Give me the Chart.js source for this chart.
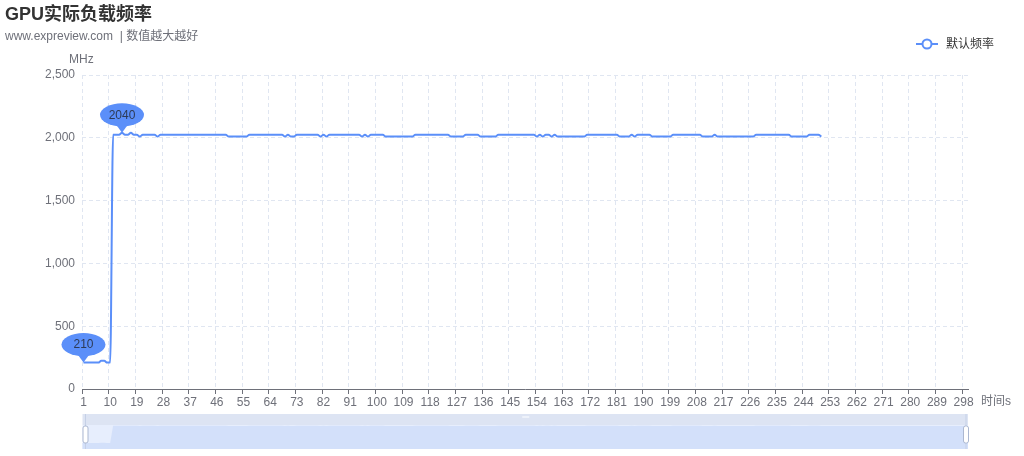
<!DOCTYPE html>
<html><head><meta charset="utf-8">
<script src="https://cdn.jsdelivr.net/npm/chart.js@4.4.1/dist/chart.umd.min.js"></script>
<style>
html,body{margin:0;padding:0;background:#fff;}
#wrap{position:relative;width:1024px;height:456px;overflow:hidden;font-family:"Liberation Sans","Noto Sans CJK SC",sans-serif;}
#c{position:absolute;left:0;top:0;}
.t{position:absolute;white-space:nowrap;line-height:1;}
</style></head><body>
<div id="wrap">
<canvas id="c" width="1024" height="456" style="width:1024px;height:456px"></canvas>
<div class="t" style="left:5px;top:5px;font-size:18px;font-weight:bold;color:#333;">GPU实际负载频率</div>
<div class="t" style="left:5px;top:30px;font-size:12px;color:#6e7079;">www.expreview.com &nbsp;| 数值越大越好</div>
<div class="t" style="left:69px;top:53px;font-size:12px;color:#6e7079;">MHz</div>
<div class="t" style="left:981px;top:395px;font-size:12px;color:#6e7079;">时间s</div>
<svg style="position:absolute;left:915px;top:38px" width="24" height="12"><line x1="1" y1="6" x2="23" y2="6" stroke="#5b8ff9" stroke-width="2"/><circle cx="12" cy="6" r="4.5" fill="#fff" stroke="#5b8ff9" stroke-width="2"/></svg>
<div class="t" id="lg" style="left:946px;top:38px;font-size:12px;color:#333;"></div>
</div>
<script>
const categories = Array.from({length: 299}, (_, i) => String(i + 1));
const seriesName = '默认频率';
const freqDefault = [
  210,210,210,210,210,210,225,225,210,210,
  2025,2025,2025,2040,2025,2025,2040,2025,2025,2010,
  2025,2025,2025,2025,2025,2010,2025,2025,2025,2025,
  2025,2025,2025,2025,2025,2025,2025,2025,2025,2025,
  2025,2025,2025,2025,2025,2025,2025,2025,2025,2010,
  2010,2010,2010,2010,2010,2010,2025,2025,2025,2025,
  2025,2025,2025,2025,2025,2025,2025,2025,2010,2025,
  2010,2010,2025,2025,2025,2025,2025,2025,2025,2025,
  2010,2025,2010,2025,2025,2025,2025,2025,2025,2025,
  2025,2025,2025,2025,2010,2025,2010,2025,2025,2025,
  2025,2025,2010,2010,2010,2010,2010,2010,2010,2010,
  2010,2010,2025,2025,2025,2025,2025,2025,2025,2025,
  2025,2025,2025,2025,2010,2010,2010,2010,2010,2025,
  2025,2025,2025,2025,2010,2010,2010,2010,2010,2010,
  2025,2025,2025,2025,2025,2025,2025,2025,2025,2025,
  2025,2025,2025,2010,2025,2010,2025,2025,2010,2025,
  2010,2010,2010,2010,2010,2010,2010,2010,2010,2010,
  2025,2025,2025,2025,2025,2025,2025,2025,2025,2025,
  2025,2010,2010,2010,2010,2025,2010,2025,2025,2025,
  2025,2025,2010,2010,2010,2010,2010,2010,2010,2025,
  2025,2025,2025,2025,2025,2025,2025,2025,2025,2010,
  2010,2010,2010,2025,2010,2010,2010,2010,2010,2010,
  2010,2010,2010,2010,2010,2010,2010,2025,2025,2025,
  2025,2025,2025,2025,2025,2025,2025,2025,2025,2010,
  2010,2010,2010,2010,2010,2025,2025,2025,2025,2010
];
const yTicks = [0, 500, 1000, 1500, 2000, 2500];
const labelEvery = 9;

document.getElementById('lg').textContent = seriesName;

const LINE = '#5b8ff9';
const AXIS = '#6e7079';
const GRID = '#e0e6f1';
const FONT = '"Liberation Sans","Noto Sans CJK SC",sans-serif';

function drawPin(ctx, x, tipY, text) {
  const cy = tipY - 18, rx = 22, ry = 11.5;
  ctx.save();
  ctx.fillStyle = LINE;
  ctx.beginPath();
  ctx.ellipse(x, cy, rx, ry, 0, 0, Math.PI * 2);
  ctx.fill();
  ctx.beginPath();
  ctx.moveTo(x - 8, cy + 7);
  ctx.lineTo(x, tipY);
  ctx.lineTo(x + 8, cy + 7);
  ctx.closePath();
  ctx.fill();
  ctx.fillStyle = '#2d3a55';
  ctx.font = '12px ' + FONT;
  ctx.textAlign = 'center';
  ctx.textBaseline = 'middle';
  ctx.fillText(text, x, cy + 0.5);
  ctx.restore();
}

const pinPlugin = {
  id: 'pins',
  afterDatasetsDraw(chart) {
    const data = chart.data.datasets[0].data;
    const xs = chart.scales.x, ys = chart.scales.y;
    let maxI = 0, minI = 0;
    data.forEach((v, i) => { if (v > data[maxI]) maxI = i; if (v < data[minI]) minI = i; });
    const ctx = chart.ctx;
    drawPin(ctx, xs.getPixelForValue(maxI), ys.getPixelForValue(data[maxI]), String(data[maxI]));
    drawPin(ctx, xs.getPixelForValue(minI), ys.getPixelForValue(data[minI]), String(data[minI]));
  }
};

const sliderPlugin = {
  id: 'slider',
  afterDraw(chart) {
    const ctx = chart.ctx;
    const xs = chart.scales.x;
    const data = chart.data.datasets[0].data;
    const x0 = chart.chartArea.left + 0.5, x1 = chart.chartArea.right;
    const stripTop = 414, bodyTop = 425, bottom = 449;
    const vmax = Math.max(...data);
    const mapY = v => 445 - v * (445 - 425.7) / vmax;
    ctx.save();
    ctx.fillStyle = '#dde4f3';
    ctx.fillRect(x0, stripTop, x1 - x0, bodyTop - stripTop);
    ctx.fillStyle = '#eef2fa';
    ctx.fillRect((x0 + x1) / 2 - 3, stripTop + 2, 7, 2);
    ctx.fillStyle = '#e7eefd';
    ctx.fillRect(x0, bodyTop, x1 - x0, bottom - bodyTop);
    ctx.beginPath();
    ctx.moveTo(x0, bottom);
    ctx.lineTo(x0, mapY(data[0]));
    data.forEach((v, i) => ctx.lineTo(xs.getPixelForValue(i), mapY(v)));
    ctx.lineTo(x1, mapY(data[data.length - 1]));
    ctx.lineTo(x1, bottom);
    ctx.closePath();
    ctx.fillStyle = '#d3e0fa';
    ctx.fill();
    ctx.strokeStyle = '#c5d0e6';
    ctx.lineWidth = 1;
    ctx.beginPath();
    ctx.moveTo(x0 + 3, stripTop); ctx.lineTo(x0 + 3, bottom);
    ctx.moveTo(x1 - 2, stripTop); ctx.lineTo(x1 - 2, bottom);
    ctx.stroke();
    const handle = (hx) => {
      ctx.fillStyle = '#fff';
      ctx.strokeStyle = '#acb8d1';
      ctx.lineWidth = 1;
      ctx.beginPath();
      ctx.roundRect(hx, 426, 5, 17, 2);
      ctx.fill();
      ctx.stroke();
    };
    handle(x0 + 0.5);
    handle(x1 - 4.5);
    ctx.restore();
  }
};

new Chart(document.getElementById('c'), {
  type: 'line',
  data: {
    labels: categories,
    datasets: [{
      label: seriesName,
      data: freqDefault,
      borderColor: LINE,
      backgroundColor: LINE,
      borderWidth: 2,
      pointRadius: 0,
      cubicInterpolationMode: 'monotone',
      fill: false
    }]
  },
  options: {
    responsive: false,
    animation: false,
    devicePixelRatio: 1,
    layout: { padding: { left: 0, right: 56, top: 75, bottom: 0 } },
    plugins: { legend: { display: false }, tooltip: { enabled: false } },
    scales: {
      x: {
        type: 'category',
        offset: true,
        afterFit(s) { s.height = 67; },
        grid: {
          offset: true,
          drawOnChartArea: true,
          color: c => (c.index % labelEvery === 0 || c.index === categories.length) ? GRID : 'rgba(0,0,0,0)',
          tickColor: c => (c.index % labelEvery === 0 || c.index === categories.length) ? AXIS : 'rgba(0,0,0,0)',
          tickLength: 5,
          lineWidth: 1
        },
        border: { display: true, color: AXIS, width: 1, dash: [4, 3] },
        ticks: {
          autoSkip: false,
          maxRotation: 0,
          minRotation: 0,
          padding: 1,
          color: AXIS,
          font: { size: 12, family: FONT },
          callback: function(v, i) { return i % labelEvery === 0 ? categories[i] : ''; }
        }
      },
      y: {
        min: yTicks[0],
        max: yTicks[yTicks.length - 1],
        afterFit(s) { s.width = 82; },
        afterBuildTicks(s) { s.ticks = yTicks.map(v => ({ value: v })); },
        grid: { color: GRID, drawTicks: false, lineWidth: 1 },
        border: { display: false, dash: [4, 3] },
        ticks: {
          padding: 7,
          color: AXIS,
          font: { size: 12, family: FONT },
          callback: v => v.toLocaleString('en-US')
        }
      }
    }
  },
  plugins: [pinPlugin, sliderPlugin]
});
</script>
</body></html>
